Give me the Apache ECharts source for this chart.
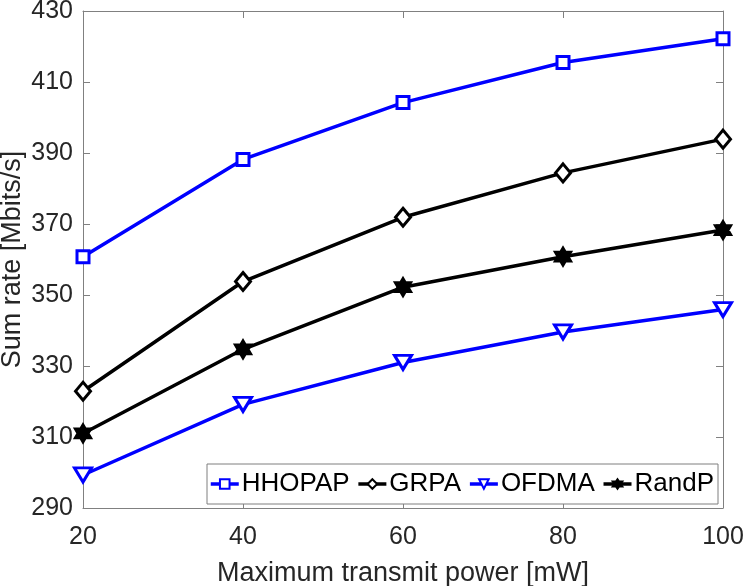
<!DOCTYPE html>
<html>
<head>
<meta charset="utf-8">
<script src="https://cdn.jsdelivr.net/npm/echarts@6/dist/echarts.min.js"></script>
<style>html,body{margin:0;padding:0;background:#fff;}#c{width:747px;height:586px;}</style>
</head>
<body>
<div id="c"></div>
<script>
var powers = [20, 40, 60, 80, 100];
var hhopap = [360.8, 388.2, 404.2, 415.5, 422.2];
var grpa = [322.9, 353.8, 371.9, 384.4, 393.9];
var ofdma = [299.3, 319.2, 331.0, 339.6, 345.9];
var randp = [311.0, 334.7, 352.2, 360.8, 368.3];
var seriesNames = ['HHOPAP', 'GRPA', 'OFDMA', 'RandP'];

var FONT = 'Liberation Sans';
var TXT = '#262626';
var AX = '#808080';
var starPath = 'path://M0 -1 L0.2887 -0.5 L0.866 -0.5 L0.577 0 L0.866 0.5 L0.2887 0.5 L0 1 L-0.2887 0.5 L-0.866 0.5 L-0.577 0 L-0.866 -0.5 L-0.2887 -0.5 Z';

function pairs(v) { return powers.map(function (p, i) { return [p, v[i]]; }); }

function mk(name, data, color, symbol, size, fill, rotate) {
  return {
    name: name, type: 'line', data: pairs(data),
    xAxisIndex: 0, yAxisIndex: 0,
    symbol: symbol, symbolSize: size, symbolRotate: rotate || 0,
    showAllSymbol: true,
    lineStyle: { color: color, width: 3.5 },
    itemStyle: { color: fill, borderColor: color, borderWidth: 3 },
    emphasis: { disabled: true },
    animation: false, z: 3
  };
}

var chart = echarts.init(document.getElementById('c'));
chart.setOption({
  backgroundColor: '#fff',
  animation: false,
  textStyle: { fontFamily: FONT },
  grid: { left: 83, right: 24, top: 11, bottom: 78, containLabel: false, outerBoundsMode: 'none' },
  legend: {
    data: seriesNames,
    left: 207, top: 464,
    orient: 'horizontal',
    itemWidth: 28, itemHeight: 12, itemGap: 7,
    padding: [7, 4, 7, 2],
    borderColor: '#7f7f7f', borderWidth: 1, backgroundColor: '#fff',
    lineStyle: { width: 3.5 },
    textStyle: { fontFamily: FONT, fontSize: 26, color: '#000', padding: [0, 0, 0, -2] }
  },
  xAxis: [{
    type: 'value', min: 20, max: 100, interval: 20,
    name: 'Maximum transmit power [mW]', nameLocation: 'middle', nameGap: 52,
    nameMoveOverlap: false,
    nameTextStyle: { fontFamily: FONT, fontSize: 27, color: TXT },
    axisLine: { lineStyle: { color: AX, width: 1 } },
    axisTick: { inside: true, length: 7, lineStyle: { color: AX } },
    axisLabel: { fontFamily: FONT, fontSize: 25, color: TXT, margin: 17 },
    splitLine: { show: false }
  }, {
    type: 'value', min: 20, max: 100, interval: 20, position: 'top',
    axisLine: { lineStyle: { color: AX, width: 1 } },
    axisTick: { inside: true, length: 7, lineStyle: { color: AX } },
    axisLabel: { show: false }, splitLine: { show: false }
  }],
  yAxis: [{
    type: 'value', min: 290, max: 430, interval: 20,
    name: 'Sum rate [Mbits/s]', nameLocation: 'middle', nameGap: 70,
    nameMoveOverlap: false,
    nameTextStyle: { fontFamily: FONT, fontSize: 27, color: TXT, verticalAlign: 'middle', align: 'center' },
    axisLine: { show: true, lineStyle: { color: AX, width: 1 } },
    axisTick: { show: true, inside: true, length: 7, lineStyle: { color: AX } },
    axisLabel: { fontFamily: FONT, fontSize: 25, color: TXT, margin: 10 },
    splitLine: { show: false }
  }, {
    type: 'value', min: 290, max: 430, interval: 20, position: 'right',
    axisLine: { show: true, lineStyle: { color: AX, width: 1 } },
    axisTick: { show: true, inside: true, length: 7, lineStyle: { color: AX } },
    axisLabel: { show: false }, splitLine: { show: false }
  }],
  series: [
    mk(seriesNames[0], hhopap, '#0000ff', 'rect', 12, '#fff'),
    mk(seriesNames[1], grpa, '#000000', 'diamond', [15, 18], '#fff'),
    mk(seriesNames[2], ofdma, '#0000ff', 'triangle', [17, 14], '#fff', 180),
    mk(seriesNames[3], randp, '#000000', starPath, [15, 17], '#000')
  ]
});
</script>
</body>
</html>
